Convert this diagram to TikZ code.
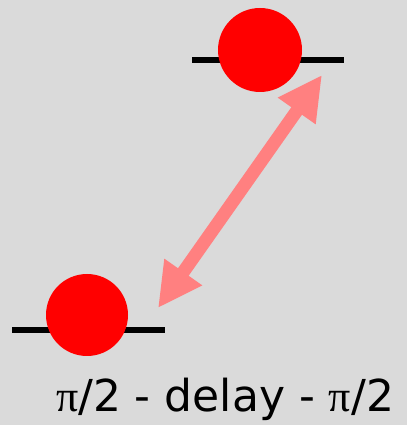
\documentclass[tikz,border=0pt]{standalone}
\usepackage{fontspec}
\setmainfont{DejaVu Sans}
\newfontfamily\pifont{Liberation Serif}
\usetikzlibrary{arrows.meta}
\definecolor{bggray}{RGB}{218,218,218}
\definecolor{atomred}{RGB}{255,0,0}
\definecolor{pulsepink}{RGB}{255,128,128}
\newcommand{\halfpi}{{\pifont π}/2}

\begin{document}
\begin{tikzpicture}[x=1pt,y=1pt,
    level/.style={line width=6pt,black},
    atom/.style={circle,fill=atomred,inner sep=0pt,minimum size=#1},
    pulse/.style={line width=13pt,pulsepink,{Triangle[length=44pt,width=43pt]}-{Triangle[length=44pt,width=43pt]}}]
  % background
  \fill[bggray] (0,0) rectangle (407,425);
  \useasboundingbox (0,0) rectangle (407,425);
  % upper state
  \coordinate (up1) at (192,365);
  \coordinate (up2) at (344,365);
  \draw[level] (up1) -- (up2);
  \node[atom=84pt] (upper) at (260,375) {};
  % lower state
  \coordinate (lo1) at (12,95);
  \coordinate (lo2) at (165,95);
  \draw[level] (lo1) -- (lo2);
  \node[atom=82pt] (lower) at (87,110) {};
  % transition
  \coordinate (tipl) at (158,117);
  \coordinate (tipu) at (322,350);
  \draw[pulse] (tipl) -- (tipu);
  % sequence label
  \node[anchor=base,inner sep=0pt,font=\fontsize{44}{52}\selectfont] (seq) at (225,13) {\halfpi{} - delay - \halfpi};
\end{tikzpicture}
\end{document}
